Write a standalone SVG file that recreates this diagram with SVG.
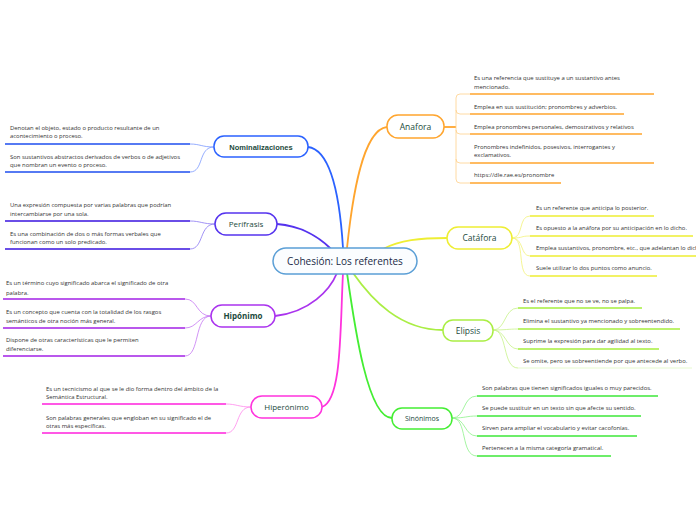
<svg xmlns="http://www.w3.org/2000/svg" width="696" height="520" viewBox="0 0 696 520">
<style>
.t{font-family:"Open Sans","Noto Sans",sans-serif;font-size:5.9px;fill:#333}
.nl{font-family:"Open Sans","Noto Sans",sans-serif;font-size:8.5px;fill:#1b4a3c;text-anchor:middle}
.nb{font-weight:bold}
.node{fill:#fff;stroke-width:1.5}
.main{fill:none;stroke-width:1.8;stroke-linecap:round}
.sub{fill:none;stroke-width:0.8}
.ul{fill:none;stroke-width:1.5}
</style>
<rect width="696" height="520" fill="#fff"/>
<g id="connectors">
<path class="main" stroke="#2b62ff" d="M308,147 C332,150 340,200 343,248"/>
<path class="main" stroke="#ffa52e" d="M387,127 C362,130 352,200 347,248"/>
<path class="main" stroke="#eeee33" d="M447,238 C420,238 400,240 383,249"/>
<path class="main" stroke="#5533ee" d="M277,224 C302,226 320,238 330,248"/>
<path class="main" stroke="#aa33ee" d="M275,316 C310,312 330,290 337,273"/>
<path class="main" stroke="#ff33dd" d="M322,407 C342,400 340,330 343,273"/>
<path class="main" stroke="#44ee33" d="M392,418 C368,418 355,330 347,273"/>
<path class="main" stroke="#aaee44" d="M443,330 C400,330 372,300 353,273"/>
<path class="sub" stroke="#7a98ff" d="M214,147 C202,147 200,144 190,144"/>
<path class="sub" stroke="#7a98ff" d="M214,147 C198,147 204,172 190,172"/>
<path class="sub" stroke="#8a77f2" d="M215,224 C203,224 200,221 190,221"/>
<path class="sub" stroke="#8a77f2" d="M215,224 C199,224 204,249 190,249"/>
<path class="sub" stroke="#c577f2" d="M211,316 C196,316 198,299 185,299"/>
<path class="sub" stroke="#c577f2" d="M211,316 C198,316 197,328 185,328"/>
<path class="sub" stroke="#c577f2" d="M211,316 C194,316 200,356 185,356"/>
<path class="sub" stroke="#ff88ec" d="M251,407 C239,407 236,404 226,404"/>
<path class="sub" stroke="#ff88ec" d="M251,407 C235,407 240,433 226,433"/>
<path fill="none" stroke="#ffa52e" stroke-width="1.8" d="M444,127 H456"/>
<path class="sub" stroke="#ffd08a" d="M470,94 H460 Q456,94 456,98 V179 Q456,183 460,183 H470 M456,110 Q456,114 460,114 H470 M456,130 Q456,134 460,134 H470 M456,159 Q456,163 460,163 H470"/>
<path class="sub" stroke="#f3f37a" d="M512,238 C524,238 518,216 530,216"/>
<path class="sub" stroke="#f3f37a" d="M512,238 C524,238 520,236 530,236"/>
<path class="sub" stroke="#f3f37a" d="M512,238 C524,238 520,256 530,256"/>
<path class="sub" stroke="#f3f37a" d="M512,238 C526,238 516,276 530,276"/>
<path class="sub" stroke="#c8f38a" d="M493,330 C506,330 504,308 518,308"/>
<path class="sub" stroke="#c8f38a" d="M493,330 C506,330 508,329 518,329"/>
<path class="sub" stroke="#c8f38a" d="M493,330 C506,330 506,349 518,349"/>
<path class="sub" stroke="#c8f38a" d="M493,330 C508,330 502,368 518,368"/>
<path class="sub" stroke="#8ef38a" d="M452,418 C466,418 462,396 477,396"/>
<path class="sub" stroke="#8ef38a" d="M452,418 C466,418 466,416 477,416"/>
<path class="sub" stroke="#8ef38a" d="M452,418 C466,418 464,436 477,436"/>
<path class="sub" stroke="#8ef38a" d="M452,418 C468,418 460,456 477,456"/>
</g>
<g id="central">
<rect x="273" y="248" width="144" height="26" rx="13" fill="#fbfdff" stroke="#5b9fd6" stroke-width="1.5"/>
<text x="345" y="264.5" style="font-family:'Open Sans','Noto Sans',sans-serif;font-size:10px;fill:#1a2a46;text-anchor:middle">Cohesión: Los referentes</text>
</g>
<g id="nominalizaciones">
<rect class="node" x="214" y="136" width="94" height="21" rx="10" stroke="#2b62ff"/>
<text class="nl nb" x="261" y="149.6" style="font-family:'Liberation Sans',Arial,sans-serif;font-size:7.5px">Nominalizaciones</text>
<path class="ul" stroke="#1f4ff0" d="M5,144 H190 M5,172 H190"/>
<text class="t" x="10" y="130">Denotan el objeto, estado o producto resultante de un</text>
<text class="t" x="10" y="138">acontecimiento o proceso.</text>
<text class="t" x="10" y="159">Son sustantivos abstractos derivados de verbos o de adjetivos</text>
<text class="t" x="10" y="166.5">que nombran un evento o proceso.</text>
</g>
<g id="perifrasis">
<rect class="node" x="215" y="213" width="62" height="22" rx="11" stroke="#5533ee"/>
<text class="nl" x="246" y="227" style="font-size:8px">Perífrasis</text>
<path class="ul" stroke="#3a14e0" d="M5,221 H190 M5,249 H190"/>
<text class="t" x="10" y="207">Una expresión compuesta por varias palabras que podrían</text>
<text class="t" x="10" y="216">intercambiarse por una sola.</text>
<text class="t" x="10" y="236">Es una combinación de dos o más formas verbales que</text>
<text class="t" x="10" y="244">funcionan como un solo predicado.</text>
</g>
<g id="hiponimo">
<rect class="node" x="211" y="305" width="64" height="22" rx="11" stroke="#aa33ee"/>
<text class="nl nb" x="243" y="319" style="font-size:8px">Hipónimo</text>
<path class="ul" stroke="#a222e6" d="M3,299 H185 M3,328 H185 M3,356 H185"/>
<text class="t" x="6" y="285">Es un término cuyo significado abarca el significado de otra</text>
<text class="t" x="6" y="294.5">palabra.</text>
<text class="t" x="6" y="314">Es un concepto que cuenta con la totalidad de los rasgos</text>
<text class="t" x="6" y="322.5">semánticos de otra noción más general.</text>
<text class="t" x="6" y="342">Dispone de otras características que le permiten</text>
<text class="t" x="6" y="351">diferenciarse.</text>
</g>
<g id="hiperonimo">
<rect class="node" x="251" y="396" width="71" height="22" rx="11" stroke="#ff33dd"/>
<text class="nl" x="286.5" y="410" style="font-size:8px">Hiperónimo</text>
<path class="ul" stroke="#ff22dd" d="M42,404 H226 M42,433 H226"/>
<text class="t" x="46" y="391">Es un tecnicismo al que se le dio forma dentro del ámbito de la</text>
<text class="t" x="46" y="399">Semántica Estructural.</text>
<text class="t" x="46" y="420">Son palabras generales que engloban en su significado el de</text>
<text class="t" x="46" y="428">otras más específicas.</text>
</g>
<g id="anafora">
<rect class="node" x="387" y="115" width="57" height="23" rx="11" stroke="#ffa52e"/>
<text class="nl" x="415.5" y="129.5">Anafora</text>
<path class="ul" stroke="#ffa52e" d="M470,94 H654 M470,114 H624 M470,134 H642 M470,163 H654 M470,183 H561"/>
<text class="t" x="474" y="80">Es una referencia que sustituye a un sustantivo antes</text>
<text class="t" x="474" y="89">mencionado.</text>
<text class="t" x="474" y="109">Emplea en sus sustitución; pronombres y adverbios.</text>
<text class="t" x="474" y="129">Emplea pronombres personales, demostrativos y relativos</text>
<text class="t" x="474" y="149">Pronombres indefinidos, posesivos, interrogantes y</text>
<text class="t" x="474" y="157">exclamativos.</text>
<text class="t" x="474" y="177">https://dle.rae.es/pronombre</text>
</g>
<g id="catafora">
<rect class="node" x="447" y="227" width="65" height="22" rx="11" stroke="#eeee33"/>
<text class="nl" x="479.5" y="241">Catáfora</text>
<path class="ul" stroke="#eeee33" d="M530,216 H654 M530,236 H693 M530,256 H700 M530,276 H657"/>
<text class="t" x="536" y="210">Es un referente que anticipa lo posterior.</text>
<text class="t" x="536" y="230">Es opuesto a la anáfora por su anticipación en lo dicho.</text>
<text class="t" x="536" y="250">Emplea sustantivos, pronombre, etc., que adelantan lo dicho.</text>
<text class="t" x="536" y="270">Suele utilizar lo dos puntos como anuncio.</text>
</g>
<g id="elipsis">
<rect class="node" x="443" y="320" width="50" height="21" rx="10" stroke="#aaee44"/>
<text class="nl" x="468" y="333.5">Elipsis</text>
<path class="ul" stroke="#a6ee3e" d="M518,308 H642 M518,329 H680 M518,349 H659"/>
<path fill="none" stroke="#e6f9cf" stroke-width="1" d="M518,368 H692"/>
<text class="t" x="523" y="303">Es el referente que no se ve, no se palpa.</text>
<text class="t" x="523" y="323">Elimina el sustantivo ya mencionado y sobreentendido.</text>
<text class="t" x="523" y="343">Suprime la expresión para dar agilidad al texto.</text>
<text class="t" x="523" y="363">Se omite, pero se sobreentiende por que antecede al verbo.</text>
</g>
<g id="sinonimos">
<rect class="node" x="392" y="408" width="60" height="21" rx="10" stroke="#44ee33"/>
<text class="nl" x="422" y="421" style="font-size:7px">Sinónimos</text>
<path class="ul" stroke="#3ee83a" d="M477,396 H658 M477,416 H641 M477,436 H637 M477,456 H611"/>
<text class="t" x="482" y="390">Son palabras que tienen significados iguales o muy parecidos.</text>
<text class="t" x="482" y="410">Se puede sustituir en un texto sin que afecte su sentido.</text>
<text class="t" x="482" y="430">Sirven para ampliar el vocabulario y evitar cacofonías.</text>
<text class="t" x="482" y="450">Pertenecen a la misma categoría gramatical.</text>
</g>
</svg>
